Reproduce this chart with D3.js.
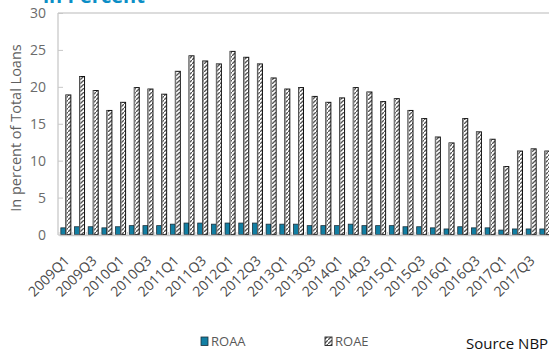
<!DOCTYPE html>
<html><head><meta charset="utf-8">
<script src="https://cdn.jsdelivr.net/npm/d3@7"></script>
<style>body{margin:0;background:#fff}svg{display:block}text{font-family:"Open Sans",sans-serif}</style>
</head><body>
<script>
const categories = [];
const years = [2009,2010,2011,2012,2013,2014,2015,2016,2017];
years.forEach(y => [1,2,3,4].forEach(q => categories.push(y + "Q" + q)));
const roaa = [0.9,1.05,1.05,0.9,1.05,1.2,1.2,1.2,1.4,1.55,1.55,1.4,1.55,1.55,1.55,1.4,1.4,1.4,
              1.2,1.2,1.2,1.4,1.2,1.2,1.2,1.05,1.05,0.9,0.75,1.05,0.9,0.9,0.6,0.75,0.75,0.75];
const roae = [18.9,21.4,19.5,16.8,17.9,19.9,19.7,19.0,22.1,24.2,23.5,23.1,24.8,24.0,23.1,21.2,19.7,19.9,
              18.7,17.9,18.5,19.9,19.3,18.0,18.4,16.8,15.7,13.2,12.4,15.7,13.9,12.9,9.2,11.3,11.6,11.3];
const yTicks = [0,5,10,15,20,25,30];
const xLabels = categories.filter((c,i) => i % 2 === 0);
const seriesNames = ["ROAA","ROAE"];

const W = 549, H = 352;
const svg = d3.select("body").append("svg").attr("width", W).attr("height", H);
const defs = svg.append("defs");
const pat = defs.append("pattern").attr("id","hatch").attr("patternUnits","userSpaceOnUse")
  .attr("width",4).attr("height",4);
pat.append("rect").attr("width",4).attr("height",4).attr("fill","#fff");
pat.append("path").attr("d","M0,4 L4,0").attr("stroke","#555").attr("stroke-width",1.3);

const x = d3.scaleBand().domain(categories).range([59, 59 + 36 * 13.686]).padding(0);
const x1 = d3.scaleBand().domain(seriesNames).range([x.bandwidth()/2 - 5, x.bandwidth()/2 + 5]).padding(0);
const y = d3.scaleLinear().domain([0,30]).range([234.5, 13]);

// title (cut off at the top as in the reference)
svg.append("text").attr("x",43).attr("y",3).attr("font-size",20).attr("font-weight","bold")
  .attr("fill","#0b8ec6").text("in Percent");

// frame
svg.append("line").attr("x1",58).attr("x2",W).attr("y1",13).attr("y2",13).attr("stroke","#d0d0d0").attr("stroke-width",1.5);
svg.append("line").attr("x1",58).attr("x2",58).attr("y1",13).attr("y2",235).attr("stroke","#d0d0d0").attr("stroke-width",1.5);

// y axis
const yAxis = svg.append("g").attr("transform","translate(58,0)")
  .call(d3.axisRight(y).tickValues(yTicks).tickSize(5).tickFormat(""));
yAxis.select(".domain").remove();
yAxis.selectAll("line").attr("stroke","#c8c8c8");
svg.append("g").selectAll("text").data(yTicks).join("text")
  .attr("x",46).attr("y",d => y(d)).attr("dy","0.36em").attr("text-anchor","end")
  .attr("font-size",14).attr("fill","#6b6b6b").text(d => d);

svg.append("text").attr("transform","translate(21,128) rotate(-90)").attr("text-anchor","middle")
  .attr("font-size",14.5).attr("fill","#5f5f5f").text("In percent of Total Loans");

// bars
const g = svg.append("g");
categories.forEach((c,i) => {
  g.append("rect").attr("x", x(c) + x1("ROAA")).attr("y", y(roaa[i]))
    .attr("width", x1.bandwidth()).attr("height", y(0) - y(roaa[i]))
    .attr("fill","#127fa3").attr("stroke","#1b2f3a").attr("stroke-width",0.8);
  g.append("rect").attr("x", x(c) + x1("ROAE")).attr("y", y(roae[i]))
    .attr("width", x1.bandwidth()).attr("height", y(0) - y(roae[i]))
    .attr("fill","url(#hatch)").attr("stroke","#111").attr("stroke-width",1);
  g.append("line").attr("x1", x(c) + x1("ROAE") + 0.5).attr("x2", x(c) + x1("ROAE") + 0.5)
    .attr("y1", y(roae[i])).attr("y2", y(0)).attr("stroke","#999").attr("stroke-width",1);
});

// x axis
const xAxis = svg.append("g").attr("transform","translate(0,235)")
  .call(d3.axisTop(x).tickSize(0).tickFormat(""));
xAxis.select(".domain").attr("stroke","#c8c8c8").attr("stroke-width",1.5);
svg.append("g").selectAll("line").data(categories).join("line")
  .attr("x1", d => x(d)).attr("x2", d => x(d)).attr("y1",235).attr("y2",232)
  .attr("stroke","#d0d0d0");
svg.append("g").selectAll("text").data(xLabels).join("text")
  .attr("transform", d => `translate(${x(d) + x.bandwidth()/2 + 1},258) rotate(-45)`)
  .attr("text-anchor","end").attr("dy","0.35em").attr("font-size",14).attr("fill","#4a4a4a").text(d => d);

// legend
const leg = svg.append("g");
leg.append("rect").attr("x",201).attr("y",337).attr("width",7).attr("height",8.5)
  .attr("fill","#127fa3").attr("stroke","#1b2f3a").attr("stroke-width",0.8);
leg.append("text").attr("x",211).attr("y",346).attr("font-size",13).attr("fill","#595959").text("ROAA");
leg.append("rect").attr("x",325).attr("y",337).attr("width",7).attr("height",8.5)
  .attr("fill","url(#hatch)").attr("stroke","#222").attr("stroke-width",0.9);
leg.append("text").attr("x",335).attr("y",346).attr("font-size",13).attr("fill","#595959").text("ROAE");

svg.append("text").attr("x",466).attr("y",349).attr("font-size",15).attr("fill","#111").text("Source NBP");
</script>
</body></html>
